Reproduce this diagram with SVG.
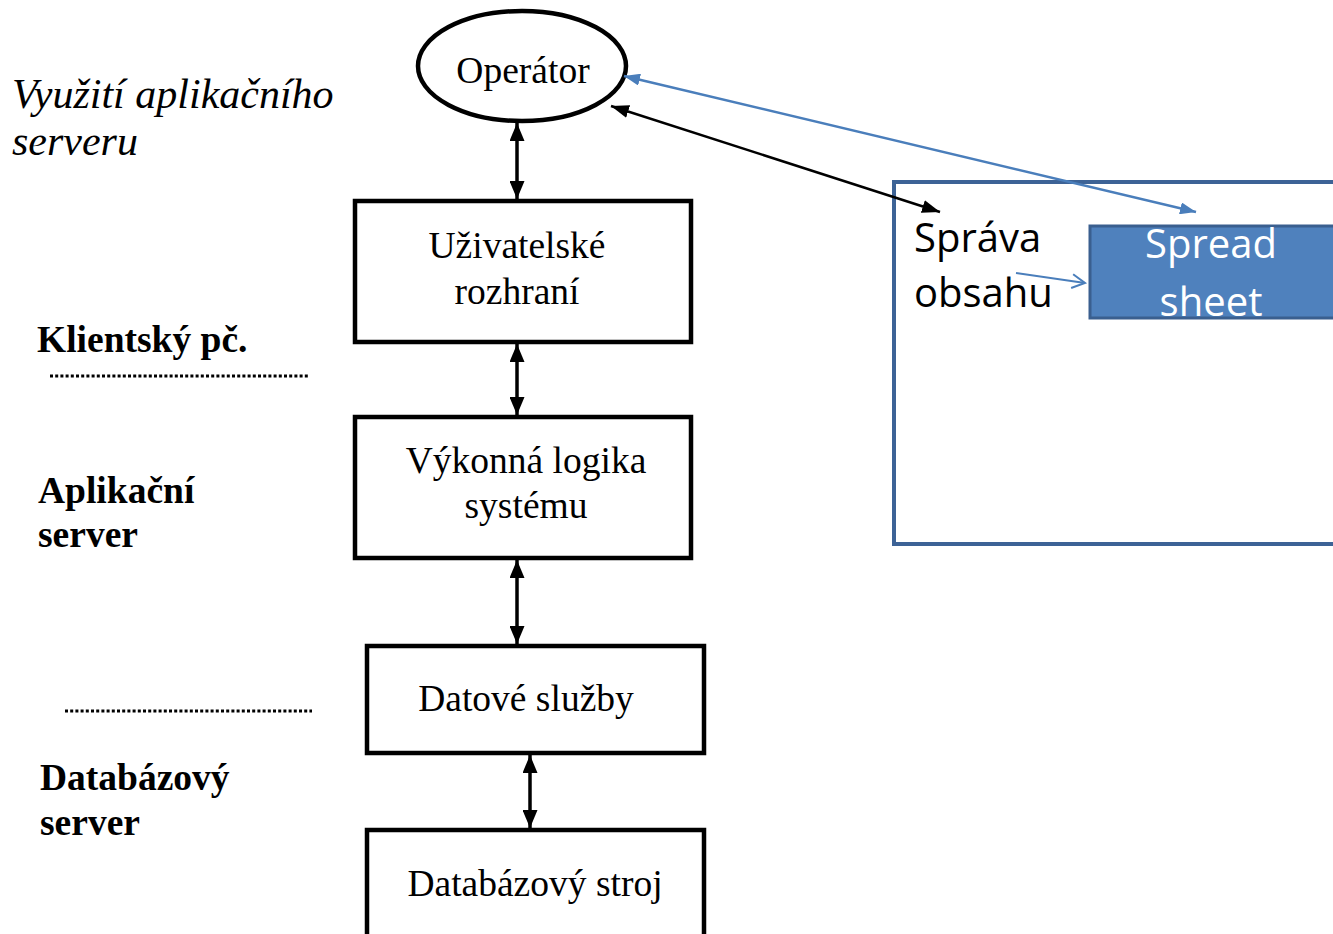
<svg xmlns="http://www.w3.org/2000/svg" width="1333" height="934" viewBox="0 0 1333 934">
  <style>
    .serif { font-family: "Liberation Serif", "Times New Roman", serif; fill: #000; }
    .node-text { font-size: 37.5px; text-anchor: middle; }
    .tier { font-size: 37.5px; font-weight: bold; }
    .sans { font-family: "Open Sans", "Liberation Sans", sans-serif; font-size: 40px; }
    .box { fill: #fff; stroke: #000; stroke-width: 4.5; }
    .dots { stroke: #000; stroke-width: 3; stroke-dasharray: 3 2.2; fill: none; }
    .link { stroke: #000; stroke-width: 3.5; fill: none; marker-start: url(#headBlack); marker-end: url(#headBlack); }
  </style>
  <defs>
    <marker id="headBlack" viewBox="0 0 18 15" refX="18" refY="7.5" markerWidth="18" markerHeight="15" markerUnits="userSpaceOnUse" orient="auto-start-reverse">
      <path d="M0,0 L18,7.5 L0,15 z" fill="#000"/>
    </marker>
    <marker id="headDiag" viewBox="0 0 18 13" refX="18" refY="6.5" markerWidth="18" markerHeight="13" markerUnits="userSpaceOnUse" orient="auto-start-reverse">
      <path d="M0,0 L18,6.5 L0,13 z" fill="#000"/>
    </marker>
    <marker id="headBlue" viewBox="0 0 16 12" refX="16" refY="6" markerWidth="16" markerHeight="12" markerUnits="userSpaceOnUse" orient="auto-start-reverse">
      <path d="M0,0 L16,6 L0,12 z" fill="#4a7ebb"/>
    </marker>
    <marker id="openBlue" viewBox="0 0 16 16" refX="14" refY="8" markerWidth="16" markerHeight="16" markerUnits="userSpaceOnUse" orient="auto">
      <path d="M1,1 L14,8 L1,15" fill="none" stroke="#4a7ebb" stroke-width="2"/>
    </marker>
  </defs>

  <rect width="1333" height="934" fill="#fff"/>

  <!-- side captions -->
  <g id="caption">
    <text class="serif" x="12" y="108" font-size="42" font-style="italic">Využití aplikačního</text>
    <text class="serif" x="12" y="155" font-size="42" font-style="italic">serveru</text>
  </g>
  <g id="tier-client">
    <text class="serif tier" x="37" y="352">Klientský pč.</text>
    <line class="dots" x1="50" y1="376" x2="310" y2="376"/>
  </g>
  <g id="tier-app">
    <text class="serif tier" x="38" y="503">Aplikační</text>
    <text class="serif tier" x="38" y="547">server</text>
    <line class="dots" x1="65" y1="711" x2="312" y2="711"/>
  </g>
  <g id="tier-db">
    <text class="serif tier" x="40" y="790">Databázový</text>
    <text class="serif tier" x="40" y="835">server</text>
  </g>

  <!-- layer nodes -->
  <g id="operator">
    <ellipse cx="522" cy="66" rx="104" ry="55" fill="#fff" stroke="#000" stroke-width="4.5"/>
    <text class="serif node-text" x="523" y="83">Operátor</text>
  </g>
  <g id="ui">
    <rect class="box" x="355" y="201" width="336" height="141"/>
    <text class="serif node-text" x="517" y="258">Uživatelské</text>
    <text class="serif node-text" x="517" y="304">rozhraní</text>
  </g>
  <g id="logic">
    <rect class="box" x="355" y="417" width="336" height="141"/>
    <text class="serif node-text" x="526" y="473">Výkonná logika</text>
    <text class="serif node-text" x="526" y="518">systému</text>
  </g>
  <g id="data">
    <rect class="box" x="367" y="646" width="337" height="107"/>
    <text class="serif node-text" x="526" y="711">Datové služby</text>
  </g>
  <g id="engine">
    <rect class="box" x="367" y="830" width="337" height="120"/>
    <text class="serif node-text" x="535" y="896">Databázový stroj</text>
  </g>

  <!-- content management panel -->
  <g id="content-panel">
    <rect x="894" y="182" width="460" height="362" fill="#fff" stroke="#3d6396" stroke-width="4"/>
    <text class="sans" x="914" y="252" fill="#000">Správa</text>
    <text class="sans" x="914" y="307" fill="#000">obsahu</text>
  </g>
  <g id="spreadsheet">
    <rect x="1090" y="226" width="260" height="92" fill="#4f81bd" stroke="#3a5f8f" stroke-width="3"/>
    <text class="sans" x="1211" y="258" fill="#fff" text-anchor="middle">Spread</text>
    <text class="sans" x="1211" y="316" fill="#fff" text-anchor="middle">sheet</text>
  </g>

  <!-- connectors -->
  <g id="connectors">
    <line class="link" x1="517" y1="123" x2="517" y2="199"/>
    <line class="link" x1="517" y1="344" x2="517" y2="415"/>
    <line class="link" x1="517" y1="560" x2="517" y2="644"/>
    <line class="link" x1="530" y1="755" x2="530" y2="828"/>
    <line x1="611" y1="106" x2="940" y2="212" stroke="#000" stroke-width="2.5" marker-start="url(#headDiag)" marker-end="url(#headDiag)"/>
    <line x1="624" y1="76" x2="1196" y2="212" stroke="#4a7ebb" stroke-width="2.5" marker-start="url(#headBlue)" marker-end="url(#headBlue)"/>
    <line x1="1016" y1="273" x2="1085" y2="283" stroke="#4a7ebb" stroke-width="2" marker-end="url(#openBlue)"/>
  </g>
</svg>
